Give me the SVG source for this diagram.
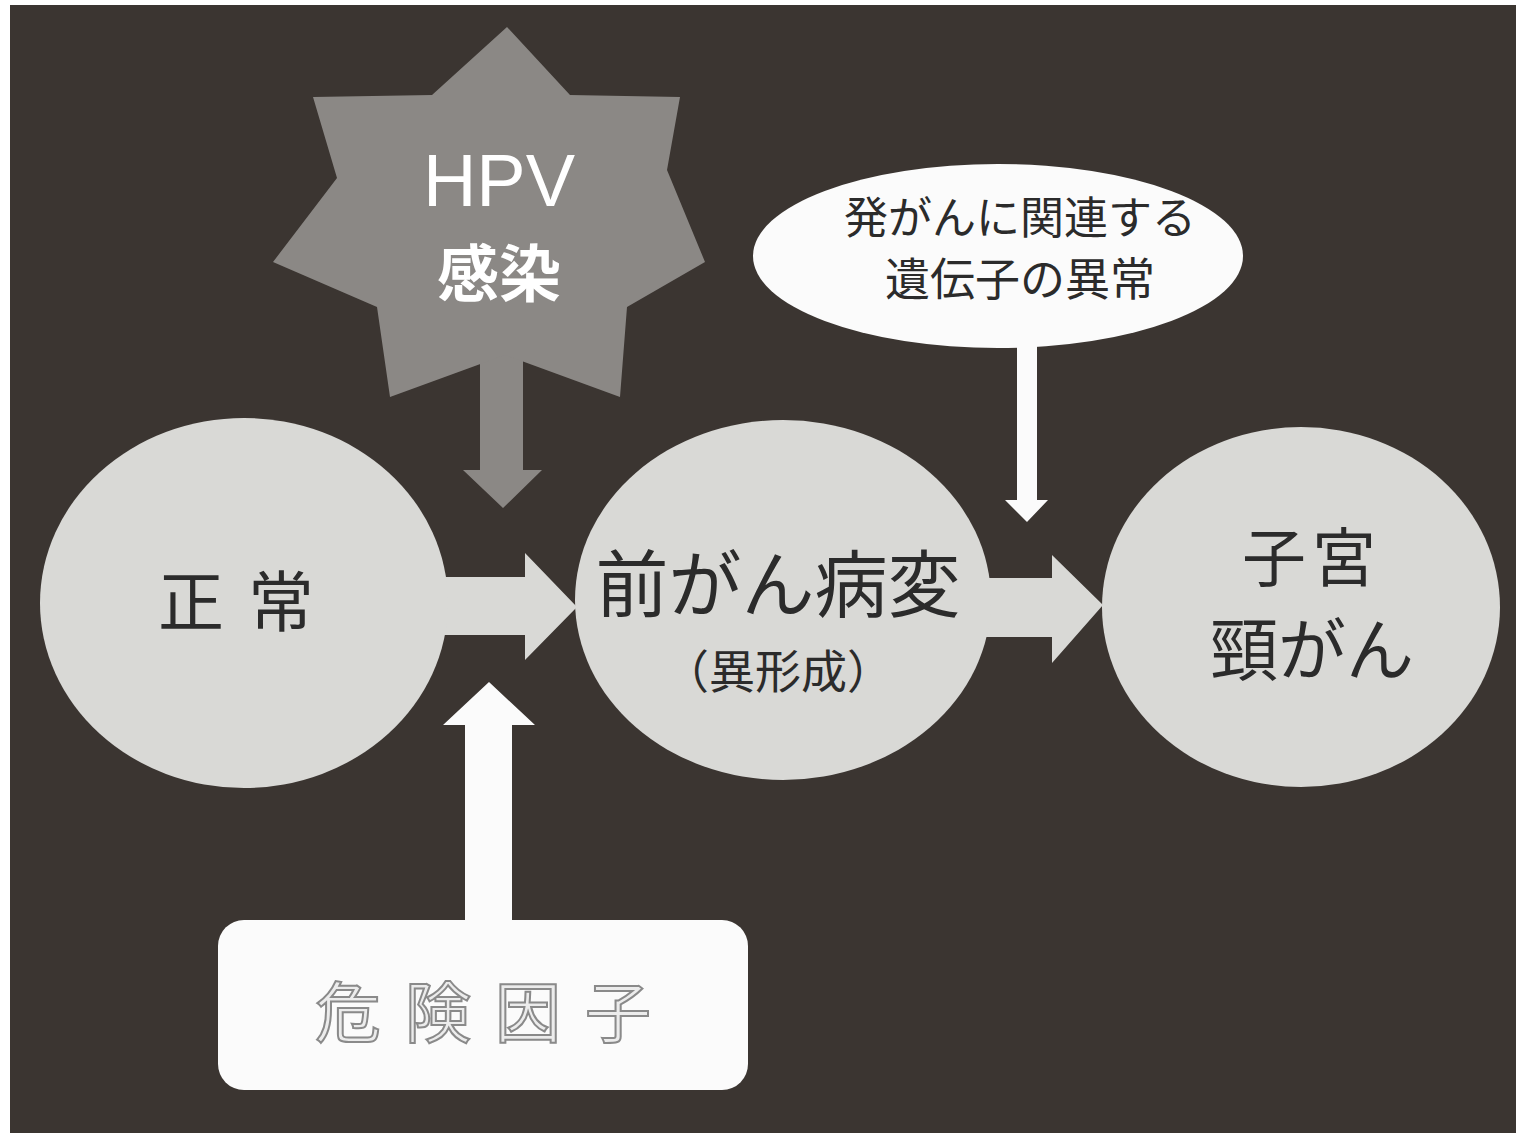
<svg xmlns="http://www.w3.org/2000/svg" width="1521" height="1143" viewBox="0 0 1521 1143">
<style>
.bg{fill:#3b3531}
.blob{fill:#d9d9d6}
.star{fill:#8b8885}
.white{fill:#fbfbfb}
.jp{font-family:"Noto Sans CJK JP","Noto Sans",sans-serif;fill:#2b2b2b;text-anchor:middle}
.hpv{font-family:"Liberation Sans",Arial,sans-serif;fill:#ffffff;text-anchor:middle}
.risk{font-family:"Noto Sans CJK JP",sans-serif;fill:#ececec;stroke:#8a8a8a;stroke-width:2;text-anchor:middle}
</style>
<rect x="0" y="0" width="1521" height="1143" fill="#ffffff"/>
<rect class="bg" x="10" y="5" width="1506" height="1128"/>

<g id="connectors">
  <path class="star" d="M480,340 L523,340 L523,470 L542,470 L503,508 L463,470 L480,470 Z"/>
  <path class="blob" d="M430,577 L525,577 L525,553 L577,607 L525,660 L525,635 L430,635 Z"/>
  <path class="blob" d="M975,578 L1052,578 L1052,555 L1103,605 L1052,663 L1052,637 L975,637 Z"/>
  <path class="white" d="M1017,335 L1037,335 L1037,500 L1048,500 L1027,522 L1005,500 L1017,500 Z"/>
  <path class="white" d="M465,930 L512,930 L512,725 L535,725 L489,682 L443,725 L465,725 Z"/>
</g>

<g id="hpv">
  <polygon class="star" points="507,27 570,95 680,97 667,170 705,262 627,307 620,397 505,355 390,397 377,307 273,262 337,178 313,97 432,95"/>
  <text class="hpv" x="499" y="206" font-size="74">HPV</text>
  <text class="jp" x="499" y="297" font-size="62" font-weight="bold" style="fill:#ffffff">感染</text>
</g>

<g id="normal">
  <ellipse class="blob" cx="244" cy="603" rx="204" ry="185"/>
  <text class="jp" x="248" y="626" font-size="66" letter-spacing="24">正常</text>
</g>

<g id="precancer">
  <ellipse class="blob" cx="783" cy="600" rx="208" ry="180"/>
  <text class="jp" x="778" y="611" font-size="73">前がん病変</text>
  <text class="jp" x="778" y="688" font-size="46">（異形成）</text>
</g>

<g id="cancer">
  <ellipse class="blob" cx="1301" cy="607" rx="199" ry="180"/>
  <text class="jp" x="1312" y="581" font-size="64" letter-spacing="6">子宮</text>
  <text class="jp" x="1312" y="675" font-size="68">頸がん</text>
</g>

<g id="gene">
  <ellipse class="white" cx="998" cy="256" rx="245" ry="92"/>
  <text class="jp" x="1020" y="234" font-size="44">発がんに関連する</text>
  <text class="jp" x="1020" y="296" font-size="45">遺伝子の異常</text>
</g>

<g id="risk">
  <rect class="white" x="218" y="920" width="530" height="170" rx="26" ry="26"/>
  <text class="risk" x="495" y="1037" font-size="66" letter-spacing="24">危険因子</text>
</g>
</svg>
